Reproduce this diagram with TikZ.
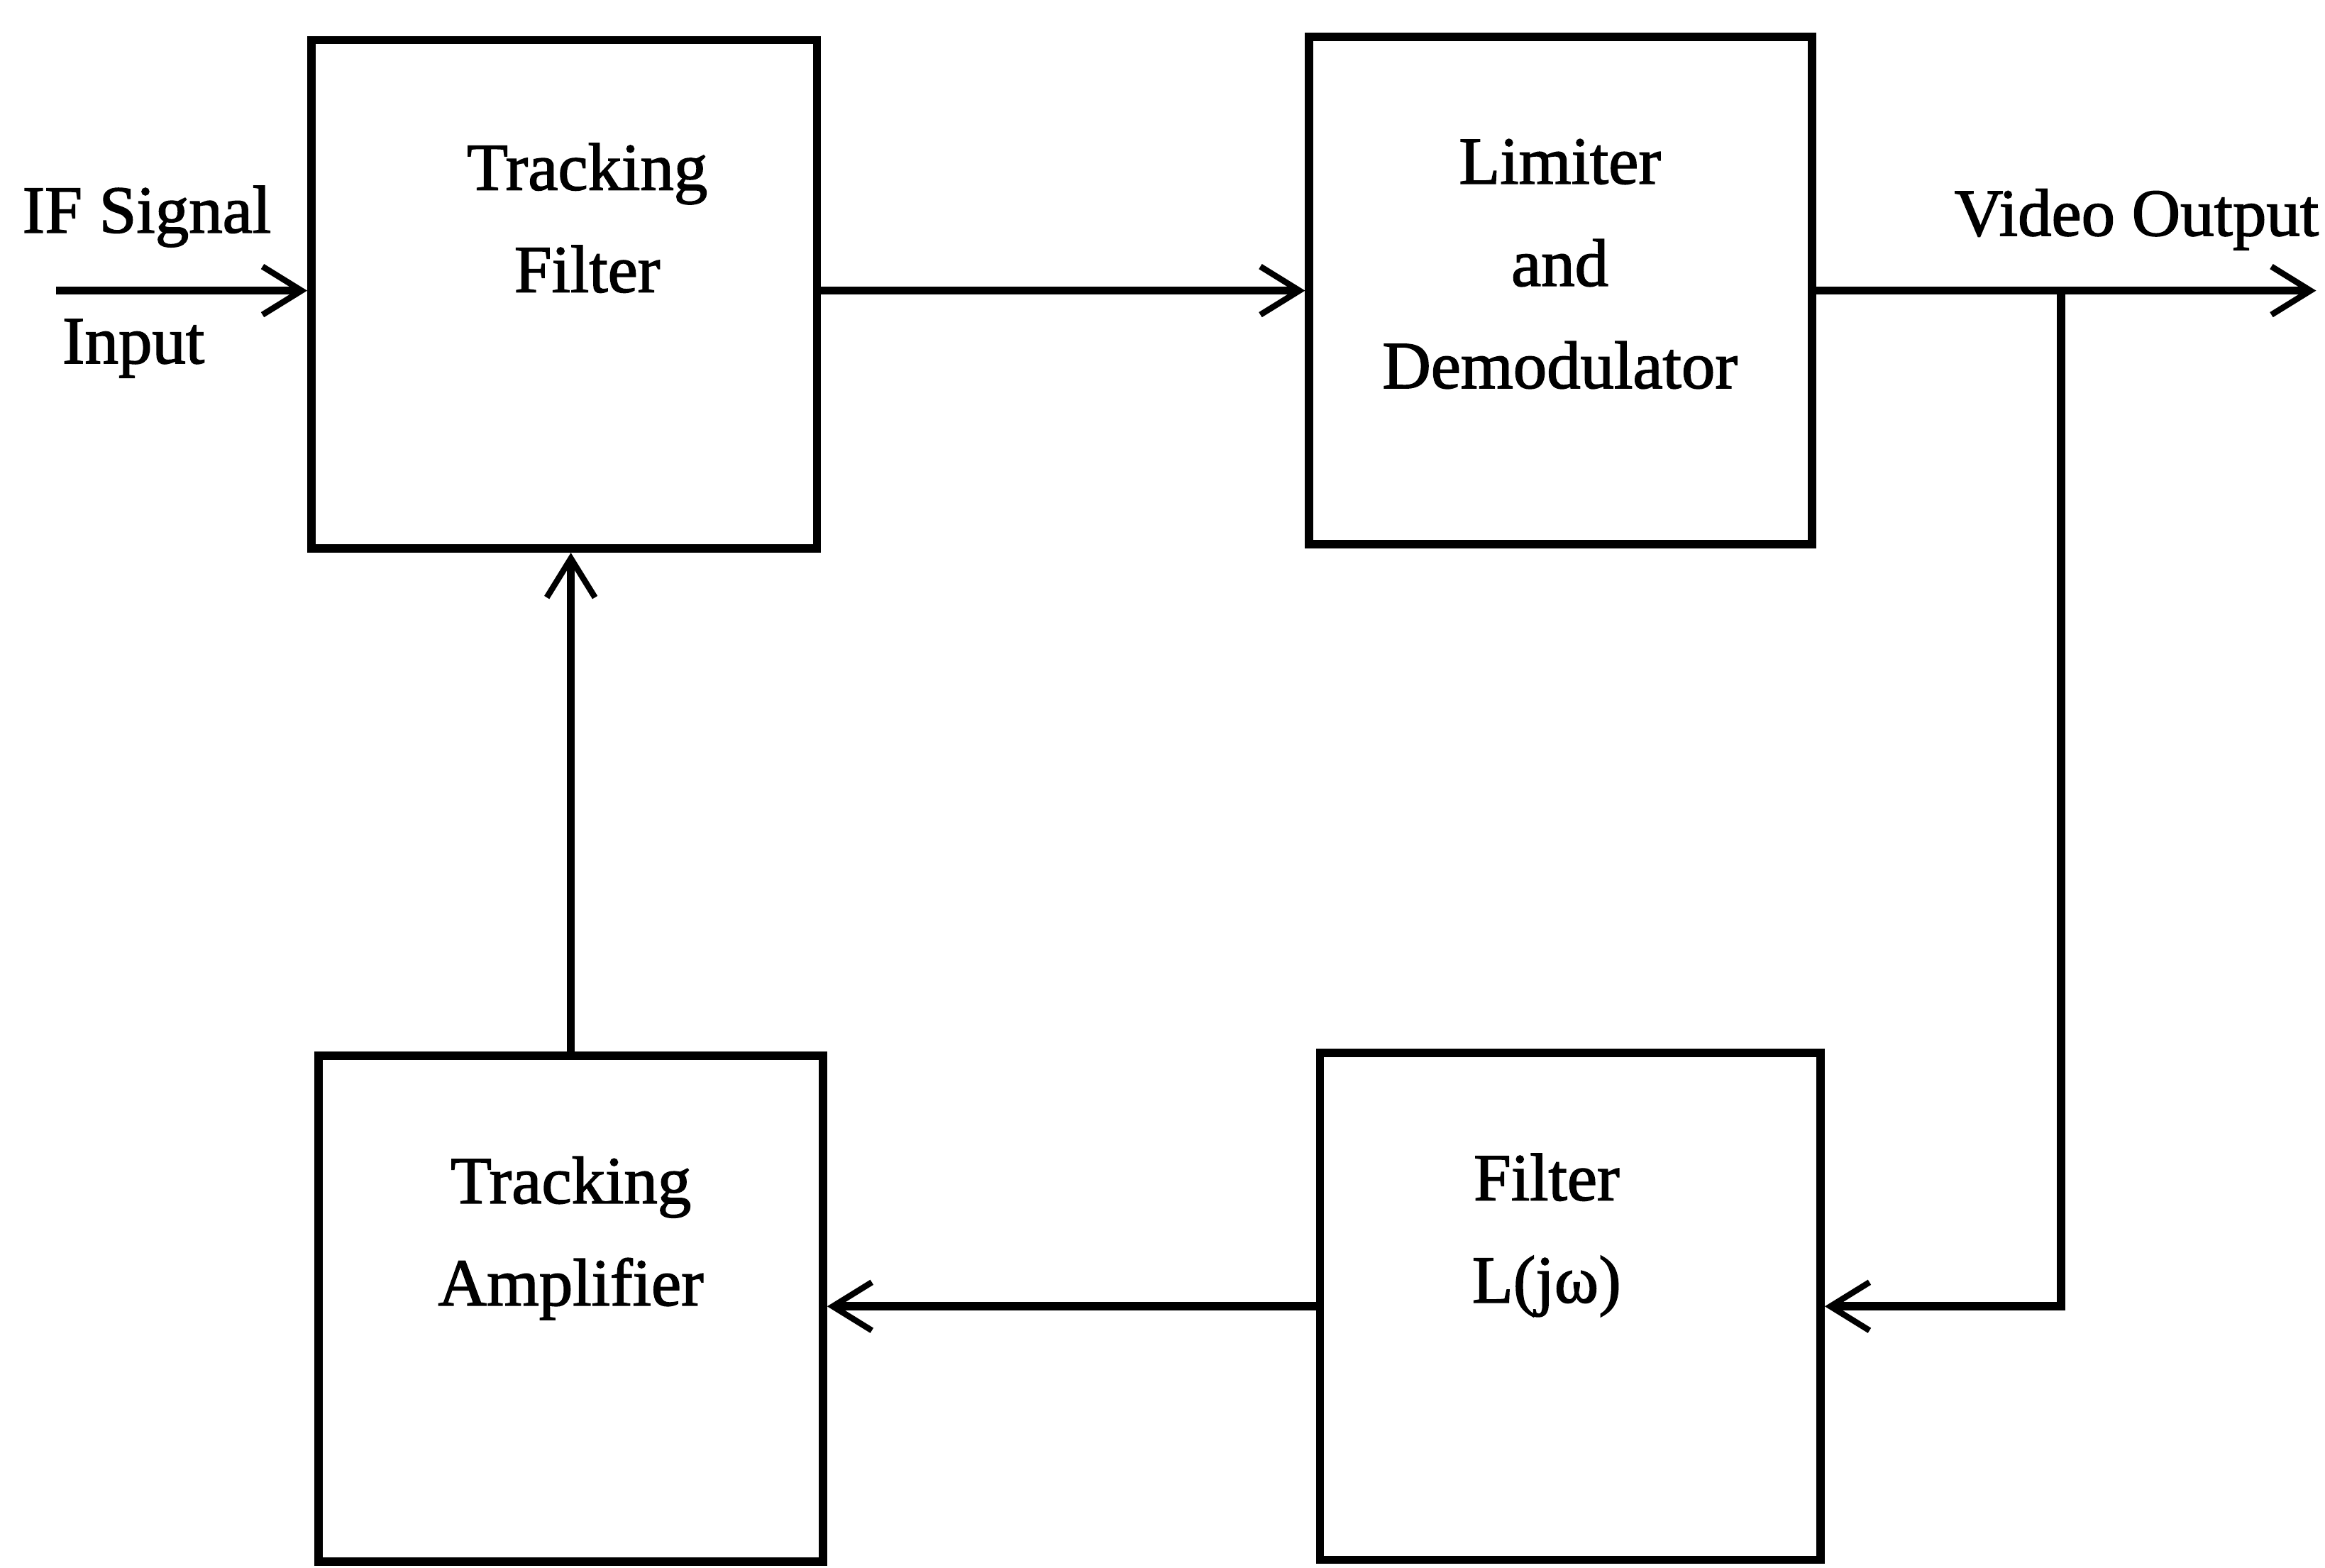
\documentclass[tikz,border=0pt]{standalone}
\usepackage{fontspec}
\setmainfont{Liberation Serif}[FakeBold=1.6]
\usetikzlibrary{arrows.meta}
\begin{document}
\begin{tikzpicture}[x=0.0209cm,y=-0.0209cm,
  blk/.style={draw,line width=3.3pt,inner sep=0pt,rectangle},
  lbl/.style={align=center,inner sep=0pt,font=\fontsize{27}{41}\selectfont},
  arr/.style={line width=3.3pt,-{Straight Barb[length=0.55cm,width=0.68cm,line width=2.4pt]}},
  ln/.style={line width=3.3pt}]
\useasboundingbox (0,0) rectangle (1568,1057);
% blocks
\node[blk,minimum width=7.13cm,minimum height=7.17cm] (tf) at (380.5,198.5) {};
\node[blk,minimum width=7.09cm,minimum height=7.15cm] (ld) at (1052.5,196) {};
\node[blk,minimum width=7.11cm,minimum height=7.13cm] (ta) at (385,882.5) {};
\node[blk,minimum width=7.06cm,minimum height=7.15cm] (fl) at (1059,881) {};
% block texts
\node[lbl] (tft) at (396,147) {Tracking\\Filter};
\node[lbl] (ldt) at (1052,178) {Limiter\\and\\Demodulator};
\node[lbl] (tat) at (385,835) {Tracking\\Amplifier};
\node[lbl] (flt) at (1043,833) {Filter\\L(jω)};
% outer labels
\node[lbl] (ifs) at (99,146) {IF Signal};
\node[lbl] (inp) at (90,235) {Input};
\node[lbl] (vo) at (1441,148) {Video Output};
% connectors
\coordinate (in) at (38,196);
\coordinate (out) at (1562,196);
\coordinate (br) at (1390,196);
\draw[arr] (in) -- (tf.west |- in);
\draw[arr] (tf.east |- ld.west) -- (ld.west);
\draw[arr] (ld.east) -- (out);
\draw[arr] (br) -- (br |- fl.east) -- (fl.east);
\draw[arr] (fl.west) -- (ta.east |- fl.west);
\draw[arr] (ta.north) -- (ta.north |- tf.south);
\end{tikzpicture}
\end{document}
